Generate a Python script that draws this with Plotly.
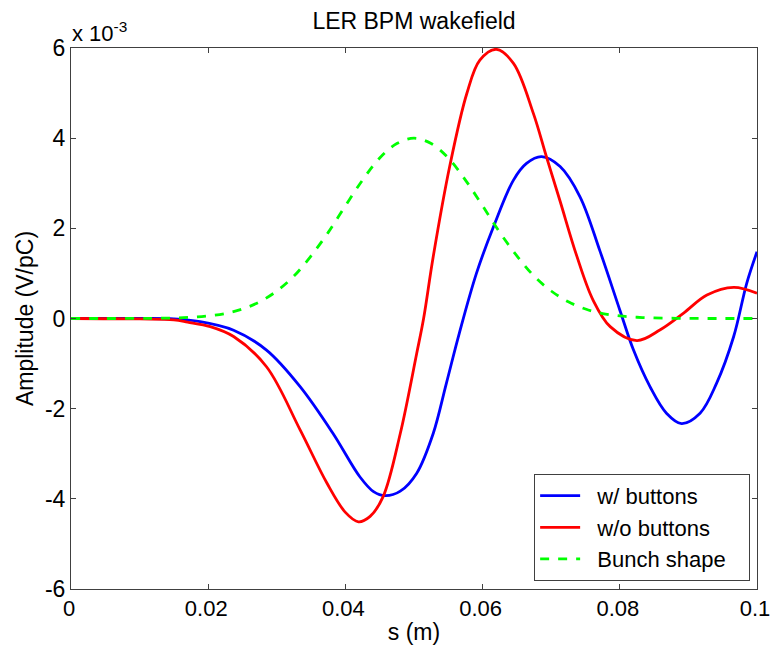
import plotly.graph_objects as go

# s (m) and amplitude in units of 1e-3 V/pC
blue_x = [0, 0.010, 0.015, 0.0188, 0.0237, 0.0285, 0.0334, 0.0382, 0.0421, 0.0441, 0.0458, 0.0480,
          0.0504, 0.0528, 0.0547, 0.0566, 0.0591, 0.0616, 0.0645, 0.0664, 0.0686, 0.0713, 0.0742,
          0.0771, 0.0800, 0.0820, 0.0844, 0.0868, 0.0890, 0.0917, 0.0941, 0.0966, 0.0985, 0.1000]
blue_y = [0, 0, -0.01, -0.07, -0.26, -0.70, -1.51, -2.55, -3.51, -3.84, -3.93, -3.83,
          -3.43, -2.55, -1.45, -0.33, 1.00, 2.04, 3.07, 3.44, 3.59, 3.37, 2.70,
          1.50, 0.19, -0.70, -1.51, -2.10, -2.33, -2.10, -1.44, -0.40, 0.78, 1.48]

red_x = [0, 0.010, 0.015, 0.017, 0.0203, 0.0237, 0.0285, 0.0334, 0.0373, 0.0400, 0.0419, 0.0436,
         0.0455, 0.0480, 0.0504, 0.0514, 0.0528, 0.0552, 0.0577, 0.0596, 0.0620, 0.0645, 0.0674,
         0.0693, 0.0713, 0.0737, 0.0761, 0.0786, 0.0825, 0.0859, 0.0893, 0.0927, 0.0966, 0.1000]
red_y = [0, -0.01, -0.03, -0.08, -0.18, -0.40, -1.07, -2.47, -3.65, -4.30, -4.51, -4.39,
         -3.95, -2.55, -0.77, 0.00, 1.37, 3.37, 4.99, 5.73, 5.97, 5.66, 4.55,
         3.59, 2.60, 1.40, 0.41, -0.18, -0.49, -0.25, 0.12, 0.52, 0.69, 0.56]

green_x = [0, 0.005, 0.010, 0.0125, 0.015, 0.0175, 0.020, 0.0225, 0.025, 0.0275, 0.030, 0.0325,
           0.035, 0.0375, 0.040, 0.0425, 0.045, 0.0475, 0.050, 0.0525, 0.055, 0.0575, 0.060,
           0.0625, 0.065, 0.0675, 0.070, 0.0725, 0.075, 0.0775, 0.080, 0.0825, 0.085, 0.090,
           0.095, 0.100]
green_y = [0, 0, 0.002, 0.005, 0.012, 0.028, 0.058, 0.11, 0.21, 0.37, 0.61, 0.94,
           1.39, 1.91, 2.50, 3.07, 3.56, 3.88, 4.00, 3.88, 3.56, 3.07, 2.50,
           1.91, 1.39, 0.94, 0.61, 0.37, 0.21, 0.11, 0.058, 0.028, 0.012, 0.002,
           0, 0]

series_names = ["w/ buttons", "w/o buttons", "Bunch shape"]

x_ticks = [0, 0.02, 0.04, 0.06, 0.08, 0.1]
x_tick_labels = ["0", "0.02", "0.04", "0.06", "0.08", "0.1"]
y_ticks = [-6, -4, -2, 0, 2, 4, 6]
y_tick_labels = ["-6", "-4", "-2", "0", "2", "4", "6"]

FONT = "Liberation Sans, Arial, Helvetica, sans-serif"
FS = 23
NB = "\u00a0"


def legend_name(s):
    return NB + NB + s + NB + NB + NB


fig = go.Figure()
fig.add_trace(go.Scatter(x=blue_x, y=blue_y, mode="lines", name=legend_name(series_names[0]),
                         line=dict(color="#0000ff", width=2.8, shape="spline")))
fig.add_trace(go.Scatter(x=red_x, y=red_y, mode="lines", name=legend_name(series_names[1]),
                         line=dict(color="#ff0000", width=2.8, shape="spline")))
fig.add_trace(go.Scatter(x=green_x, y=green_y, mode="lines", name=legend_name(series_names[2]),
                         line=dict(color="#00ff00", width=2.8, dash="dash", shape="spline")))

axis_common = dict(showline=True, linecolor="#404040", linewidth=1, mirror="ticks",
                   ticks="inside", ticklen=5, tickcolor="#404040", showgrid=False,
                   zeroline=False, automargin=False)

fig.update_layout(
    width=771, height=647,
    margin=dict(l=71, r=14, t=48, b=58),
    paper_bgcolor="white", plot_bgcolor="white",
    font=dict(family=FONT, color="black"),
    title=dict(text="LER BPM wakefield", x=0.537, xanchor="center", y=0.968, yanchor="middle",
               font=dict(size=FS, family=FONT)),
    xaxis=dict(range=[0, 0.1], tickvals=x_ticks, ticktext=x_tick_labels,
               ticklabeloverflow="allow", ticklabelshift=-2,
               tickfont=dict(family=FONT, size=22, color="black"),
               title=dict(text="s (m)", font=dict(size=FS, family=FONT), standoff=3),
               **axis_common),
    yaxis=dict(range=[-6, 6], tickvals=y_ticks, ticktext=y_tick_labels,
               tickfont=dict(family=FONT, size=FS, color="black"),
               title=dict(text="Amplitude (V/pC)", font=dict(size=FS, family=FONT), standoff=4),
               **axis_common),
    legend=dict(x=0.99, y=0.015, xanchor="right", yanchor="bottom",
                bordercolor="#404040", borderwidth=1, bgcolor="white",
                font=dict(size=22, family=FONT), itemwidth=40, tracegroupgap=0),
    showlegend=True,
)

fig.add_annotation(text="x 10<sup>-3</sup>", xref="paper", yref="paper", x=0, y=1,
                   xanchor="left", yanchor="bottom", showarrow=False,
                   font=dict(size=22, family=FONT), xshift=-1, yshift=0)

fig.write_html("out.html")
